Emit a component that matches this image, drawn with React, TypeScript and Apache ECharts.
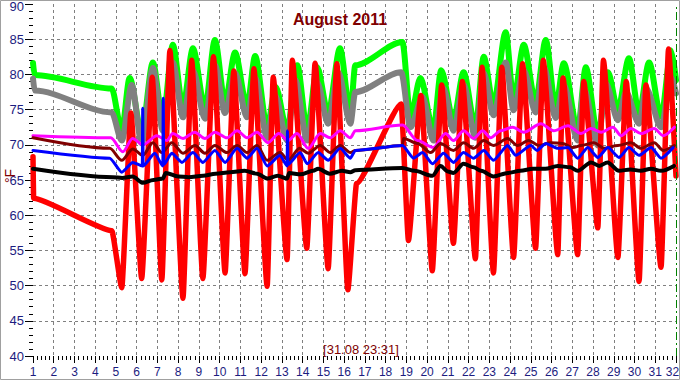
import React, { useEffect, useRef } from "react";
import * as echarts from "echarts";

const TITLE = "August 2011";
const STAMP = "[31.08 23:31]";
const UNIT = "°F";
const NOW_DAY = 32;

const redData: [number, number][] = [
  [1.0, 68.3], [1.03, 62.4], [4.8, 57.8], [5.28, 49.7], [5.72, 74.5], [6.24, 51.0], [6.75, 79.6], [7.21, 50.8],
  [7.6, 83.4], [8.23, 48.2], [8.65, 82.0], [9.19, 51.0], [9.7, 82.5], [10.26, 51.8], [10.68, 80.5], [11.22, 51.7],
  [11.65, 80.8], [12.29, 49.9], [12.58, 79.6], [13.25, 53.7], [13.5, 82.0], [14.2, 55.3], [14.6, 81.6], [15.23, 52.4],
  [15.65, 81.5], [16.18, 49.4], [16.6, 64.5], [18.75, 75.8], [19.1, 56.4], [19.7, 77.0], [20.25, 52.1], [20.7, 78.5],
  [21.27, 56.0], [21.7, 79.0], [22.33, 53.8], [22.65, 81.0], [23.2, 51.8], [23.6, 81.0], [24.17, 54.0], [24.6, 81.5],
  [25.23, 55.3], [25.6, 82.0], [26.3, 54.4], [26.55, 79.5], [27.26, 54.4], [27.55, 79.0], [28.23, 58.2], [28.5, 82.0],
  [29.2, 54.0], [29.6, 79.0], [30.22, 50.6], [30.55, 78.5], [31.28, 52.6], [31.64, 83.6], [32.0, 65.6],
];

const greenData: [number, number][] = [
  [1.0, 81.6], [1.08, 79.9], [4.79, 78.0], [5.28, 72.0], [5.66, 79.5], [6.24, 71.7], [6.78, 81.7], [7.26, 73.5],
  [7.74, 84.2], [8.23, 75.4], [8.71, 83.7], [9.29, 75.2], [9.77, 84.9], [10.26, 76.0], [10.74, 83.1], [11.32, 75.4],
  [11.71, 82.6], [12.29, 72.5], [12.7, 78.2], [13.25, 72.1], [13.74, 81.3], [14.22, 72.1], [14.7, 81.0], [15.23, 74.5],
  [15.8, 83.7], [16.3, 74.5], [16.54, 81.3], [18.81, 84.6], [19.2, 74.0], [19.68, 79.5], [20.3, 72.1], [20.68, 80.6],
  [21.27, 73.5], [21.76, 80.3], [22.33, 72.5], [22.73, 82.5], [23.2, 75.7], [23.79, 86.0], [24.17, 76.4], [24.66, 84.2],
  [25.23, 76.1], [25.72, 84.9], [26.2, 75.3], [26.59, 81.6], [27.26, 72.1], [27.65, 81.0], [28.23, 71.4], [28.72, 80.3],
  [29.2, 75.0], [29.73, 82.3], [30.22, 74.5], [30.7, 81.7], [31.28, 74.0], [31.77, 83.4], [32.0, 79.2],
];

const grayData: [number, number][] = [
  [1.0, 79.4], [1.08, 77.7], [4.79, 74.6], [5.28, 70.6], [5.76, 78.5], [6.24, 70.2], [6.78, 80.9], [7.26, 72.0],
  [7.74, 81.7], [8.23, 73.9], [8.71, 80.6], [9.29, 73.7], [9.77, 81.3], [10.26, 74.5], [10.74, 80.2], [11.32, 73.9],
  [11.71, 79.5], [12.29, 71.0], [12.67, 77.0], [13.25, 70.6], [13.64, 79.2], [14.22, 70.6], [14.7, 78.9], [15.23, 73.0],
  [15.72, 80.3], [16.3, 73.0], [16.54, 77.5], [18.75, 80.3], [19.2, 72.5], [19.78, 76.8], [20.3, 70.6], [20.79, 78.0],
  [21.27, 72.0], [21.76, 78.5], [22.33, 71.0], [22.73, 80.2], [23.2, 74.2], [23.79, 81.7], [24.17, 74.9], [24.66, 80.6],
  [25.23, 74.6], [25.63, 81.0], [26.2, 73.8], [26.59, 78.5], [27.26, 70.6], [27.56, 78.0], [28.23, 69.9], [28.62, 78.7],
  [29.2, 73.5], [29.59, 77.5], [30.22, 73.0], [30.56, 78.0], [31.28, 72.5], [31.77, 79.6], [32.0, 77.3],
];

const magentaData: [number, number][] = [
  [1.0, 71.3], [4.75, 71.0], [5.33, 69.0], [5.8, 70.9], [6.3, 70.0], [6.97, 71.3], [7.45, 70.6], [7.74, 71.6],
  [8.23, 70.9], [8.8, 71.8], [9.29, 70.9], [9.77, 71.8], [10.35, 71.0], [10.84, 72.0], [11.32, 71.0], [11.8, 71.8],
  [12.33, 70.3], [12.85, 71.6], [13.3, 70.6], [13.73, 71.6], [14.27, 69.5], [14.85, 71.6], [15.33, 71.0], [15.81, 72.0],
  [16.3, 71.0], [16.54, 72.0], [18.81, 72.8], [19.54, 70.6], [20.3, 69.6], [20.89, 71.6], [21.27, 70.6], [21.76, 72.0],
  [22.24, 70.9], [22.68, 72.0], [23.06, 71.0], [23.55, 72.0], [24.13, 72.5], [24.66, 71.8], [25.48, 73.0], [26.11, 72.0],
  [26.79, 72.7], [27.42, 71.6], [27.9, 72.3], [28.39, 71.8], [28.96, 72.5], [29.35, 71.3], [29.83, 72.3], [30.31, 71.6],
  [30.95, 72.3], [31.38, 71.3], [31.92, 72.5],
];

const maroonData: [number, number][] = [
  [1.0, 71.0], [4.7, 69.5], [5.28, 67.8], [5.81, 69.4], [6.29, 68.5], [6.78, 70.3], [7.21, 68.9], [7.69, 70.3],
  [8.23, 68.8], [8.81, 69.9], [9.29, 68.8], [9.77, 69.9], [10.35, 68.9], [10.84, 69.9], [11.32, 68.9], [11.8, 69.9],
  [12.29, 67.8], [12.91, 68.9], [13.3, 67.8], [13.85, 69.5], [14.27, 68.8], [14.85, 69.9], [15.33, 68.9], [15.81, 69.9],
  [16.3, 68.9], [16.54, 69.2], [18.81, 69.9], [18.86, 70.9], [19.54, 70.2], [20.17, 68.9], [20.65, 70.2], [21.27, 69.2],
  [21.76, 70.3], [22.24, 69.5], [22.73, 70.6], [23.2, 69.9], [23.88, 70.9], [24.36, 69.9], [24.9, 70.6], [25.39, 69.9],
  [25.96, 70.3], [26.53, 70.2], [27.03, 69.6], [27.42, 69.9], [28.04, 70.3], [28.53, 69.5], [29.2, 69.9], [29.83, 70.3],
  [30.31, 69.5], [30.95, 70.3], [31.38, 69.2], [31.92, 69.9],
];

const blueData: [number, number][] = [
  [1.0, 69.2], [4.7, 68.1], [5.28, 66.1], [5.81, 67.5], [6.27, 67.0], [6.29, 75.2], [6.31, 67.0], [6.87, 68.8],
  [7.26, 67.0], [7.28, 76.6], [7.3, 67.2], [7.69, 68.8], [8.18, 67.5], [8.71, 68.9], [9.19, 67.5], [9.77, 69.2],
  [10.26, 67.5], [10.84, 69.5], [11.32, 68.1], [11.8, 69.5], [12.29, 67.0], [12.91, 68.5], [13.25, 67.0], [13.27, 72.0],
  [13.29, 67.2], [13.88, 68.9], [14.22, 67.3], [14.75, 68.9], [15.23, 67.8], [15.81, 69.5], [16.3, 68.1], [16.54, 69.2],
  [18.81, 69.9], [19.35, 68.1], [19.78, 68.9], [20.26, 67.3], [20.79, 68.8], [21.27, 67.5], [21.76, 68.9], [22.24, 68.1],
  [22.73, 69.2], [23.2, 67.8], [23.88, 69.9], [24.27, 68.5], [25.0, 69.9], [25.3, 69.2], [25.72, 70.2], [26.3, 69.5],
  [26.79, 69.6], [27.26, 68.1], [27.75, 69.6], [28.23, 68.2], [28.72, 69.6], [29.25, 68.2], [29.73, 69.6], [30.22, 68.5],
  [30.8, 69.6], [31.28, 68.1], [31.86, 69.6],
];

const blackData: [number, number][] = [
  [1.0, 66.6], [4.85, 65.4], [5.3, 65.3], [5.8, 65.5], [6.3, 64.6], [6.8, 65.0], [7.26, 65.2], [7.4, 66.0],
  [8.0, 65.5], [8.5, 65.4], [9.2, 65.6], [9.8, 65.9], [10.5, 66.1], [11.2, 66.3], [11.8, 65.9], [12.3, 65.2],
  [12.8, 65.6], [13.25, 65.2], [13.35, 66.0], [13.9, 65.8], [14.5, 66.3], [14.75, 66.6], [15.3, 65.9], [15.9, 66.3],
  [16.3, 66.1], [16.54, 66.4], [18.8, 66.7], [19.4, 66.3], [20.26, 65.6], [20.65, 67.0], [21.0, 66.2], [21.27, 66.0],
  [21.76, 67.3], [22.24, 66.8], [22.6, 66.3], [23.2, 65.5], [23.9, 66.0], [24.5, 66.3], [25.1, 66.6], [25.7, 66.6],
  [26.3, 67.0], [26.9, 66.8], [27.26, 66.3], [27.9, 67.5], [28.3, 67.0], [28.7, 67.5], [29.25, 66.3], [29.8, 66.5],
  [30.3, 66.3], [30.8, 66.6], [31.28, 66.3], [31.9, 67.0],
];

const FONT = "'Liberation Sans', Arial, sans-serif";
const NAVY = "#1c1c80";
const MAROON = "#800000";

function line(name: string, data: [number, number][], color: string, width: number, smooth: number, extra: any = {}) {
  return {
    name,
    type: "line",
    data,
    showSymbol: false,
    symbol: "none",
    silent: true,
    smooth,
    smoothMonotone: "x",
    lineStyle: { color, width, cap: "round", join: "round" },
    ...extra,
  };
}

export default function App() {
  const ref = useRef<HTMLDivElement>(null);
  useEffect(() => {
    if (!ref.current) return;
    const chart = echarts.init(ref.current, null, { renderer: "svg" });
    chart.setOption({
      animation: false,
      backgroundColor: "#ffffff",
      grid: { left: 33, right: 4, top: 4, bottom: 24, containLabel: false, outerBoundsMode: "none" },
      xAxis: {
        type: "value",
        min: 1,
        max: 32,
        interval: 1,
        axisLine: { show: false },
        axisTick: { show: true, length: 7, lineStyle: { color: "#000", width: 1 } },
        minorTick: { show: true, splitNumber: 5, length: 4, lineStyle: { color: "#000", width: 1 } },
        axisLabel: {
          color: NAVY,
          fontSize: 12,
          fontFamily: FONT,
          margin: 10,
          formatter: (v: number) => (v === 32 ? "{end|32}" : String(v)),
          rich: { end: { color: NAVY, fontSize: 12, fontFamily: FONT, padding: [0, 7, 0, 0] } },
        },
        splitLine: {
          show: true,
          showMinLine: false,
          showMaxLine: false,
          lineStyle: { color: "#808080", type: [3, 3], width: 1 },
        },
      },
      yAxis: {
        type: "value",
        min: 40,
        max: 90,
        interval: 5,
        axisLine: { show: false },
        axisTick: { show: true, length: 8, lineStyle: { color: "#000", width: 1 } },
        minorTick: { show: true, splitNumber: 5, length: 4, lineStyle: { color: "#000", width: 1 } },
        axisLabel: {
          color: NAVY,
          fontSize: 13,
          fontFamily: FONT,
          margin: 9,
          formatter: (v: number) => (v === 90 ? "{top|90}" : String(v)),
          rich: { top: { color: NAVY, fontSize: 13, fontFamily: FONT, padding: [5, 0, 0, 0] } },
        },
        splitLine: {
          show: true,
          showMinLine: false,
          showMaxLine: false,
          lineStyle: { color: "#808080", type: [3, 3], width: 1 },
        },
      },
      series: [
        line("green", greenData, "#00ff00", 6, 0.3, {
          markLine: {
            silent: true,
            symbol: "none",
            label: { show: false },
            lineStyle: { color: "#008000", type: [8, 3, 2, 3], width: 1 },
            data: [{ xAxis: NOW_DAY }],
          },
        }),
        line("gray", grayData, "#808080", 6, 0.3),
        line("red", redData, "#ff0000", 5.5, 0.15),
        line("magenta", magentaData, "#ff00ff", 3, 0.3),
        line("maroon", maroonData, "#800000", 3, 0.3),
        line("blue", blueData, "#0000ff", 3, 0.2),
        line("black", blackData, "#000000", 4, 0.3),
      ],
      graphic: [
        {
          type: "rect",
          silent: true,
          shape: { x: 0.5, y: 0.5, width: 679, height: 379 },
          style: { fill: "none", stroke: "#a0a0a0", lineWidth: 1 },
          z: 100,
        },
        {
          type: "text",
          x: 340,
          y: 19,
          style: {
            text: TITLE,
            fill: MAROON,
            font: `bold 16px ${FONT}`,
            textAlign: "center",
            textVerticalAlign: "middle",
          },
          z: 100,
        },
        {
          type: "text",
          x: 361,
          y: 349,
          style: {
            text: STAMP,
            fill: MAROON,
            font: `13px ${FONT}`,
            textAlign: "center",
            textVerticalAlign: "middle",
          },
          z: 100,
        },
        {
          type: "text",
          x: 10,
          y: 176,
          rotation: Math.PI / 2,
          style: {
            text: UNIT,
            fill: MAROON,
            font: `14px ${FONT}`,
            textAlign: "center",
            textVerticalAlign: "middle",
          },
          z: 100,
        },
      ],
    });
    return () => chart.dispose();
  }, []);
  return (
    <div
      ref={ref}
      style={{ position: "absolute", left: 0, top: 0, width: 680, height: 380, background: "#fff" }}
    />
  );
}
